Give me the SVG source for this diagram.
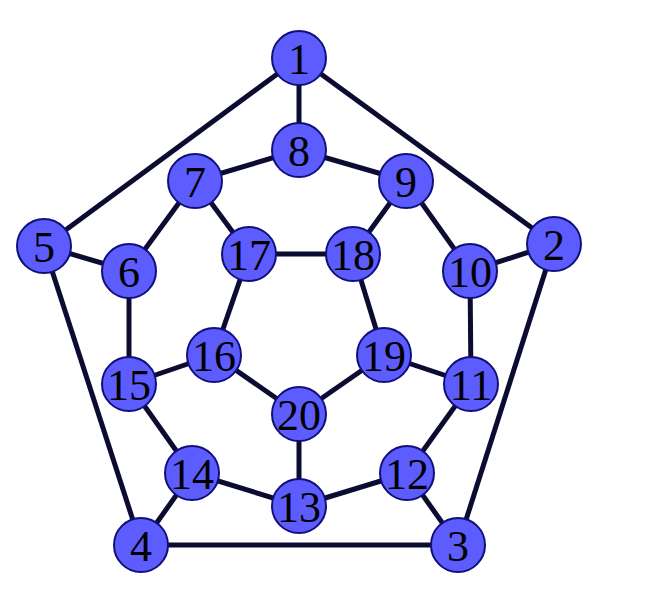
<svg xmlns="http://www.w3.org/2000/svg" width="660" height="602" viewBox="0 0 660 602">
<style>
.e{stroke:#0c0c33;stroke-width:5;stroke-linecap:butt}
.n circle{fill:#5c5cff;stroke:#10107a;stroke-width:2}
.n text{font-family:"Liberation Serif",serif;font-size:44px;fill:#000;text-anchor:middle}
</style>
<rect width="660" height="602" fill="#fff"/>
<g id="edges">
<line class="e" x1="299" y1="58" x2="554" y2="244"/>
<line class="e" x1="554" y1="244" x2="458" y2="545"/>
<line class="e" x1="458" y1="545" x2="141" y2="545"/>
<line class="e" x1="141" y1="545" x2="44" y2="246"/>
<line class="e" x1="44" y1="246" x2="299" y2="58"/>
<line class="e" x1="299" y1="58" x2="299" y2="150"/>
<line class="e" x1="554" y1="244" x2="470" y2="271"/>
<line class="e" x1="458" y1="545" x2="407" y2="473"/>
<line class="e" x1="141" y1="545" x2="192" y2="473"/>
<line class="e" x1="44" y1="246" x2="129" y2="271"/>
<line class="e" x1="129" y1="271" x2="195" y2="181"/>
<line class="e" x1="195" y1="181" x2="299" y2="150"/>
<line class="e" x1="299" y1="150" x2="406" y2="181"/>
<line class="e" x1="406" y1="181" x2="470" y2="271"/>
<line class="e" x1="470" y1="271" x2="471" y2="384"/>
<line class="e" x1="471" y1="384" x2="407" y2="473"/>
<line class="e" x1="407" y1="473" x2="299" y2="506"/>
<line class="e" x1="299" y1="506" x2="192" y2="473"/>
<line class="e" x1="192" y1="473" x2="129" y2="384"/>
<line class="e" x1="129" y1="384" x2="129" y2="271"/>
<line class="e" x1="195" y1="181" x2="249" y2="254"/>
<line class="e" x1="406" y1="181" x2="353" y2="254"/>
<line class="e" x1="471" y1="384" x2="384" y2="355"/>
<line class="e" x1="299" y1="506" x2="299" y2="414"/>
<line class="e" x1="129" y1="384" x2="214" y2="355"/>
<line class="e" x1="214" y1="355" x2="249" y2="254"/>
<line class="e" x1="249" y1="254" x2="353" y2="254"/>
<line class="e" x1="353" y1="254" x2="384" y2="355"/>
<line class="e" x1="384" y1="355" x2="299" y2="414"/>
<line class="e" x1="299" y1="414" x2="214" y2="355"/>
</g>
<g id="n1" class="n"><circle cx="299" cy="58" r="27"/><text x="299" y="74">1</text></g>
<g id="n2" class="n"><circle cx="554" cy="244" r="27"/><text x="554" y="260">2</text></g>
<g id="n3" class="n"><circle cx="458" cy="545" r="27"/><text x="458" y="561">3</text></g>
<g id="n4" class="n"><circle cx="141" cy="545" r="27"/><text x="141" y="561">4</text></g>
<g id="n5" class="n"><circle cx="44" cy="246" r="27"/><text x="44" y="262">5</text></g>
<g id="n6" class="n"><circle cx="129" cy="271" r="27"/><text x="129" y="287">6</text></g>
<g id="n7" class="n"><circle cx="195" cy="181" r="27"/><text x="195" y="197">7</text></g>
<g id="n8" class="n"><circle cx="299" cy="150" r="27"/><text x="299" y="166">8</text></g>
<g id="n9" class="n"><circle cx="406" cy="181" r="27"/><text x="406" y="197">9</text></g>
<g id="n10" class="n"><circle cx="470" cy="271" r="27"/><text x="470" y="287">10</text></g>
<g id="n11" class="n"><circle cx="471" cy="384" r="27"/><text x="471" y="400">11</text></g>
<g id="n12" class="n"><circle cx="407" cy="473" r="27"/><text x="407" y="489">12</text></g>
<g id="n13" class="n"><circle cx="299" cy="506" r="27"/><text x="299" y="522">13</text></g>
<g id="n14" class="n"><circle cx="192" cy="473" r="27"/><text x="192" y="489">14</text></g>
<g id="n15" class="n"><circle cx="129" cy="384" r="27"/><text x="129" y="400">15</text></g>
<g id="n16" class="n"><circle cx="214" cy="355" r="27"/><text x="214" y="371">16</text></g>
<g id="n17" class="n"><circle cx="249" cy="254" r="27"/><text x="249" y="270">17</text></g>
<g id="n18" class="n"><circle cx="353" cy="254" r="27"/><text x="353" y="270">18</text></g>
<g id="n19" class="n"><circle cx="384" cy="355" r="27"/><text x="384" y="371">19</text></g>
<g id="n20" class="n"><circle cx="299" cy="414" r="27"/><text x="299" y="430">20</text></g>
</svg>
